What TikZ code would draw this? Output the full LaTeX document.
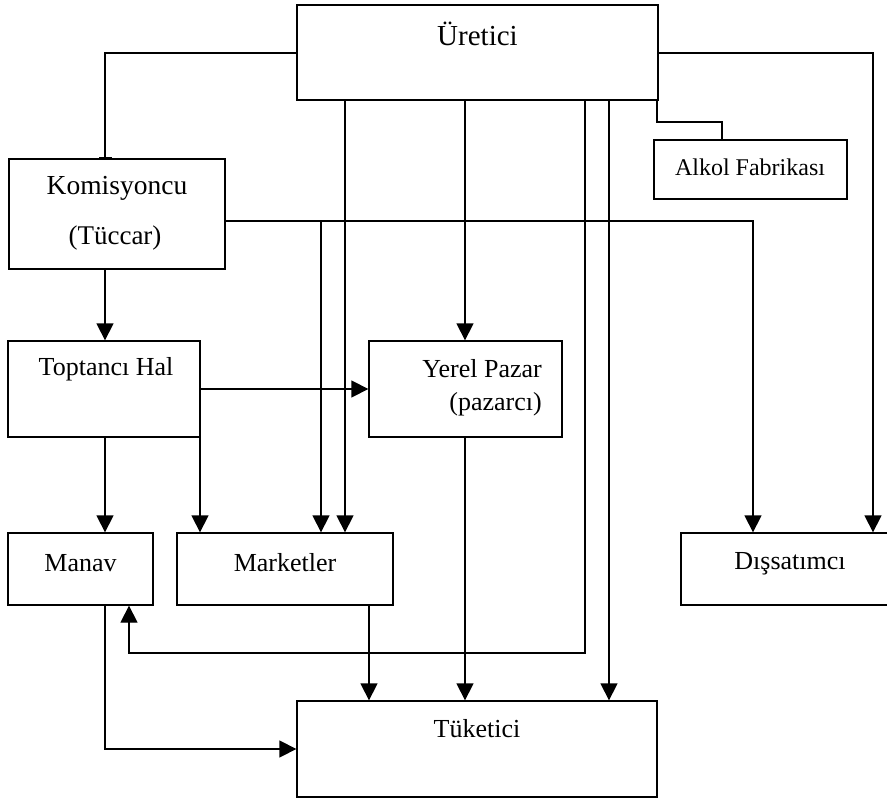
\documentclass[tikz,border=0pt]{standalone}
\usepackage{fontspec}
\setmainfont{Liberation Serif}
\usetikzlibrary{arrows.meta}
\begin{document}
\begin{tikzpicture}[x=1pt,y=-1pt,
  box/.style={draw,line width=1.3pt,rectangle,inner sep=0pt},
  txt/.style={inner sep=0pt,font=\fontsize{26}{30}\selectfont},
  conn/.style={line width=1.3pt},
  arr/.style={conn,-{Triangle[width=17pt,length=17pt]}}]
\useasboundingbox (0,0) rectangle (887,800);
% boxes
\node[box,minimum width=361pt,minimum height=95pt] (ure) at (477.5,52.5) {};
\node[box,minimum width=193pt,minimum height=59pt] (alk) at (750.5,169.5) {};
\node[box,minimum width=216pt,minimum height=110pt] (kom) at (117,214) {};
\node[box,minimum width=192pt,minimum height=96pt] (top) at (104,389) {};
\node[box,minimum width=193pt,minimum height=96pt] (yer) at (465.5,389) {};
\node[box,minimum width=145pt,minimum height=72pt] (man) at (80.5,569) {};
\node[box,minimum width=216pt,minimum height=72pt] (mar) at (285,569) {};
\node[box,minimum width=208pt,minimum height=72pt] (dis) at (785,569) {};
\node[box,minimum width=360pt,minimum height=96pt] (tuk) at (477,749) {};
% texts
\node[txt,font=\fontsize{29}{34}\selectfont] (ureT) at (477.5,34) {Üretici};
\node[txt,font=\fontsize{24}{28}\selectfont] (alkT) at (750,167) {Alkol Fabrikası};
\node[txt,font=\fontsize{27.5}{32}\selectfont] (komT) at (117,188) {Komisyoncu};
\node[txt,font=\fontsize{27}{32}\selectfont] (komT2) at (115,238) {(Tüccar)};
\node[txt] (topT) at (106,369) {Toptancı Hal};
\node[txt,anchor=east] (yerT) at (542,369) {Yerel Pazar};
\node[txt,anchor=east] (yerT2) at (542,404) {(pazarcı)};
\node[txt] (manT) at (80.5,563) {Manav};
\node[txt] (marT) at (285,563) {Marketler};
\node[txt] (disT) at (790,564) {Dışsatımcı};
\node[txt] (tukT) at (477,729) {Tüketici};
% connectors from Üretici
\draw[conn,-{Bar[width=13pt,line width=1.8pt]}] (ure.west |- 0,53) -| (kom.north -| 105,0);
\draw[arr] (ure.east |- 0,53) -| (dis.north -| 873,0);
\draw[arr] (ure.south -| 345,0) -- (mar.north -| 345,0);
\draw[arr] (ure.south -| 465,0) -- (yer.north -| 465,0);
\draw[arr] (ure.south -| 585,0) |- (129,653) -- (man.south -| 129,0);
\draw[arr] (ure.south -| 609,0) -- (tuk.north -| 609,0);
\draw[conn] (ure.south -| 657,0) |- (722,122) -- (alk.north -| 722,0);
% Komisyoncu
\draw[arr] (kom.east |- 0,221) -| (dis.north -| 753,0);
\draw[arr] (321,221) -- (mar.north -| 321,0);
\draw[arr] (kom.south -| 105,0) -- (top.north -| 105,0);
% Toptancı Hal
\draw[arr] (top.east |- 0,389) -- (yer.west |- 0,389);
\draw[arr] (top.south -| 105,0) -- (man.north -| 105,0);
\draw[arr] (top.south -| 200,0) -- (mar.north -| 200,0);
% to Tüketici
\draw[arr] (mar.south -| 369,0) -- (tuk.north -| 369,0);
\draw[arr] (yer.south -| 465,0) -- (tuk.north -| 465,0);
\draw[arr] (man.south -| 105,0) |- (tuk.west |- 0,749);
\end{tikzpicture}
\end{document}
